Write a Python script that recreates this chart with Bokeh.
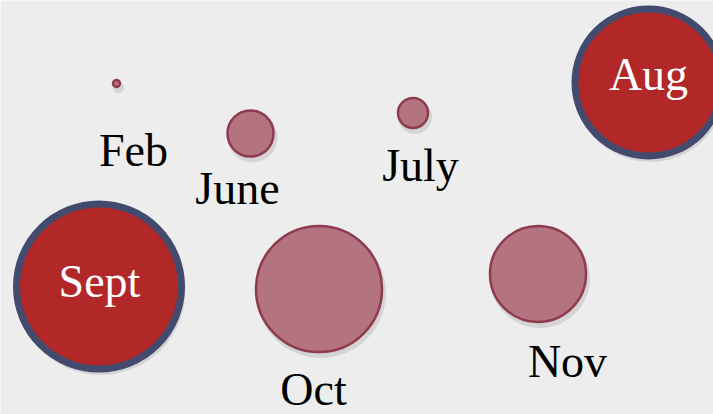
from bokeh.plotting import figure
from bokeh.models import Range1d, ColumnDataSource
from bokeh.core.properties import value
from bokeh.embed import file_html
from bokeh.resources import INLINE

# Bubble data (chart units)
months = ["Feb", "June", "July", "Aug", "Sept", "Oct", "Nov"]
x_vals = [116, 250, 412.5, 648, 98.5, 318.5, 537.5]
y_vals = [331, 281, 301.5, 332, 128, 125.5, 140.5]
sizes = [3.5, 23, 15, 73.5, 82.5, 63, 48]
highlight = [False, False, False, True, True, False, False]

# label offsets relative to bubble centre (layout)
label_dx = [17, -13, 7.5, 0, 0.5, -5.5, 29.5]
label_dy = [-67, -55, -52.5, 8, 5, -100, -87.5]

BG = "#EDEDED"
RED = "#B22727"
NAVY = "#424A6E"
MAUVE = "#B3737F"
MAUVE_EDGE = "#8E3B50"

p = figure(width=713, height=414, output_backend="svg", toolbar_location=None,
           x_range=Range1d(0, 713), y_range=Range1d(0, 414), min_border=0)
p.axis.visible = False
p.grid.visible = False
p.outline_line_color = None
p.background_fill_color = BG
p.border_fill_color = BG

src = ColumnDataSource(dict(
    month=months, x=x_vals, y=y_vals, r=sizes,
    fill=[RED if h else MAUVE for h in highlight],
    edge=[NAVY if h else MAUVE_EDGE for h in highlight],
    lw=[7 if h else 2.5 for h in highlight],
    sx=[x + 2 for x in x_vals], sy=[y - 4 for y in y_vals],
    sr=[r + 2 for r in sizes],
    lx=[x + d for x, d in zip(x_vals, label_dx)],
    ly=[y + d for y, d in zip(y_vals, label_dy)],
    tc=["white" if h else "black" for h in highlight],
))

# soft shadows
p.circle(x="sx", y="sy", radius="sr", source=src, fill_color="#000000",
         fill_alpha=0.10, line_color=None)
p.circle(x="x", y="y", radius="r", source=src, fill_color="fill",
         line_color="edge", line_width="lw")

p.text(x="lx", y="ly", text="month", source=src, text_color="tc",
       text_font=value("Liberation Serif"), text_font_size="46px",
       text_align="center", text_baseline="alphabetic")

open("out.html", "w").write(file_html(p, INLINE))
